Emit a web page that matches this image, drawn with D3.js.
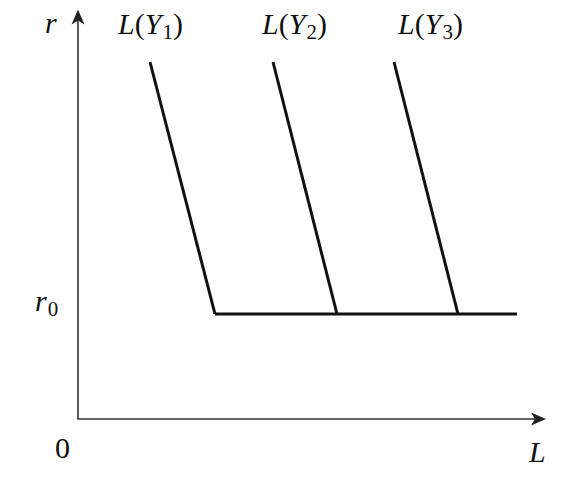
<!DOCTYPE html>
<html>
<head>
<meta charset="utf-8">
<script src="https://cdn.jsdelivr.net/npm/d3@7"></script>
<style>
  html, body { margin: 0; padding: 0; background: #fff; }
  #wrap { position: relative; width: 570px; height: 482px; }
  svg { display: block; position: absolute; left: 0; top: 0; }
  .lab { position: absolute; white-space: nowrap; line-height: 30px; height: 30px;
         font-family: "Liberation Serif", "Times New Roman", serif; font-size: 30px; color: #111; }
  .lab i { font-style: italic; }
  .lab .sub { font-size: 21px; position: relative; top: 5px; margin-left: 1px; }
</style>
</head>
<body>
<div id="wrap"><svg id="chart" width="570" height="482"></svg></div>
<script>
// curves L(Y) : steep part from (topL, rTop) down to (bottomL, r0)
var curveSubs = ["1", "2", "3"];
var topL = [7.2, 19.5, 31.6];
var bottomL = [13.7, 25.9, 38.0];
var labelL = [4.0, 18.4, 32.0];
var rTop = 3.4;
var r0 = 1;
var flatEnd = 43.9;   // end of the horizontal r0 segment
var axisMaxL = 46.8;
var axisMaxR = 3.9;

var wrap = d3.select("#wrap");
var svg = d3.select("#chart");

var x = d3.scaleLinear().domain([0, 47]).range([78, 548]);
var y = d3.scaleLinear().domain([0, 4]).range([419, -1]);

// axes
svg.append("line")
  .attr("x1", x(0)).attr("y1", y(0))
  .attr("x2", x(0)).attr("y2", y(axisMaxR) + 8)
  .attr("stroke", "#333").attr("stroke-width", 1.6);
svg.append("line")
  .attr("x1", x(0) - 0.8).attr("y1", y(0))
  .attr("x2", x(axisMaxL) - 8).attr("y2", y(0))
  .attr("stroke", "#333").attr("stroke-width", 1.6);

// arrowheads (notched)
function arrow(tx, ty, dir) {
  var len = 15, hw = 6.5, notch = 4;
  var pts;
  if (dir == "up")
    pts = [[tx, ty], [tx + hw, ty + len], [tx, ty + len - notch], [tx - hw, ty + len]];
  else
    pts = [[tx, ty], [tx - len, ty - hw], [tx - len + notch, ty], [tx - len, ty + hw]];
  svg.append("path")
    .attr("d", "M" + pts.map(p => p.join(",")).join("L") + "Z")
    .attr("fill", "#222");
}
arrow(x(0), y(axisMaxR), "up");
arrow(x(axisMaxL), y(0), "right");

// horizontal r0 line
svg.append("line")
  .attr("x1", x(bottomL[0])).attr("y1", y(r0))
  .attr("x2", x(flatEnd)).attr("y2", y(r0))
  .attr("stroke", "#111").attr("stroke-width", 3);

// steep segments
var line = d3.line().x(d => x(d[0])).y(d => y(d[1]));
svg.append("g")
  .selectAll("path")
  .data(topL.map((t, i) => [[t, rTop], [bottomL[i], r0]]))
  .join("path")
    .attr("d", line)
    .attr("fill", "none")
    .attr("stroke", "#111")
    .attr("stroke-width", 3);

// labels as html, placed by baseline (baseline sits ~25px below the box top)
function label(px, baseline, html) {
  wrap.append("div")
    .attr("class", "lab")
    .style("left", px + "px")
    .style("top", (baseline - 25) + "px")
    .html(html);
}

curveSubs.forEach(function(d, i) {
  label(x(labelL[i]), 34, "<i>L</i>(<i>Y</i><span class='sub'>" + d + "</span>)");
});
label(45, 33, "<i>r</i>");
label(35, y(r0) - 3, "<i>r</i><span class='sub'>0</span>");
label(55, 458, "0");
label(529, 462, "<i>L</i>");
</script>
</body>
</html>
